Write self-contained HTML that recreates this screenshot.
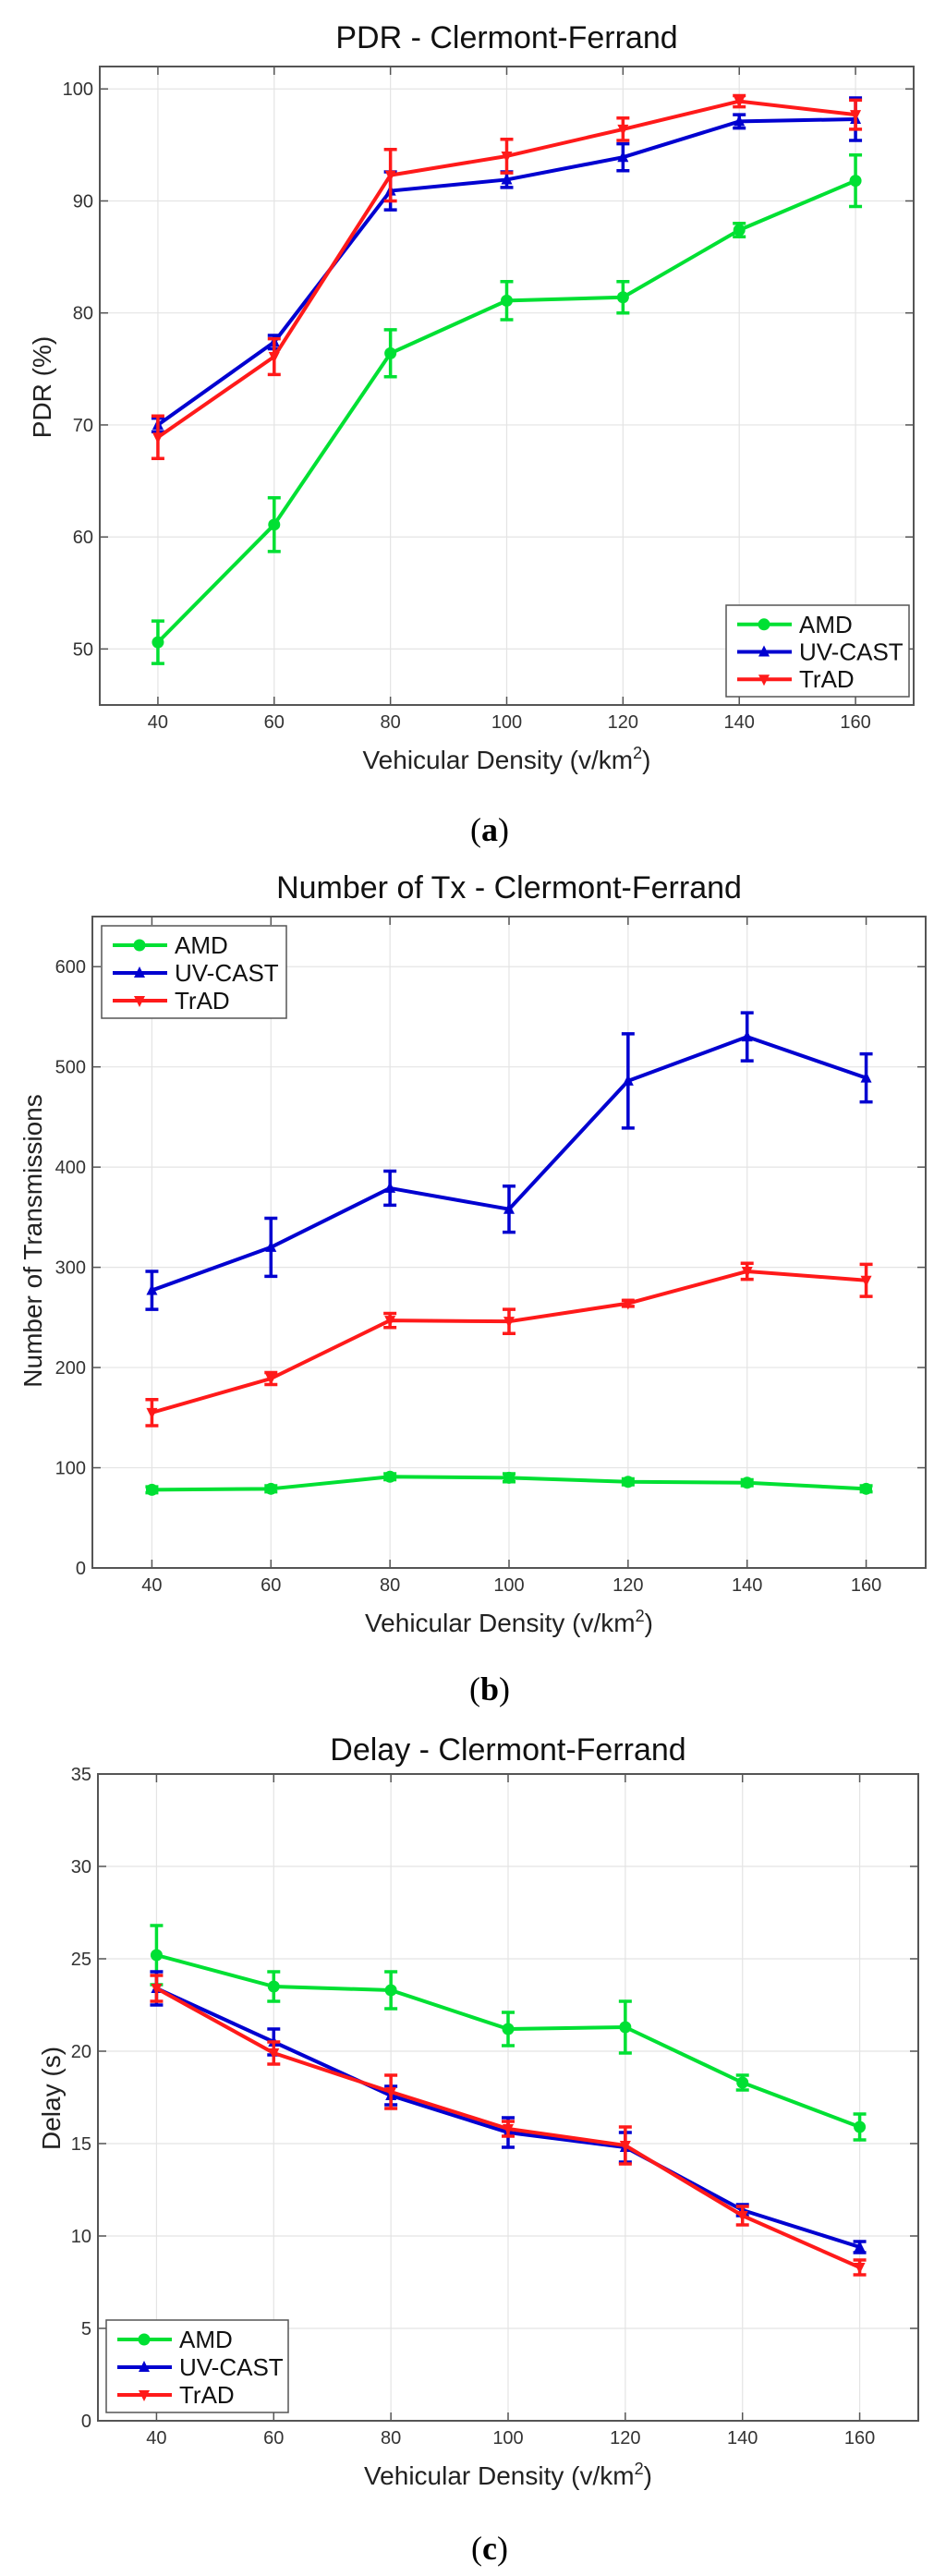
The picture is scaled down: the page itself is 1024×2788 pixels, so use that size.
<!DOCTYPE html>
<html><head><meta charset="utf-8"><style>
html,body{margin:0;padding:0;background:#fff;}
svg{display:block;font-family:"Liberation Sans",Arial,sans-serif;}
</style></head>
<body>
<svg id="fig" width="1024" height="2788" viewBox="0 0 1024 2788" xmlns="http://www.w3.org/2000/svg"></svg>
<script>
// ---- shared data ----
const densities = [40, 60, 80, 100, 120, 140, 160];
const xTicks = [40, 60, 80, 100, 120, 140, 160];
const seriesNames = ["AMD", "UV-CAST", "TrAD"];

// (a) PDR
const pdrAMD = [50.6, 61.1, 76.4, 81.1, 81.4, 87.4, 91.8];
const pdrAMDErr = [1.9, 2.4, 2.1, 1.7, 1.4, 0.6, 2.3];
const pdrUV = [70.0, 77.4, 90.9, 91.9, 93.9, 97.1, 97.3];
const pdrUVErr = [0.6, 0.6, 1.7, 0.7, 1.2, 0.6, 1.9];
const pdrTrAD = [68.9, 76.1, 92.3, 94.0, 96.4, 98.9, 97.7];
const pdrTrADErr = [1.9, 1.6, 2.3, 1.5, 1.0, 0.5, 1.3];
const pdrYTicks = [50, 60, 70, 80, 90, 100];

// (b) Number of Tx
const txAMD = [78, 79, 91, 90, 86, 85, 79];
const txAMDErr = [3, 3, 3, 4, 3, 3, 3];
const txUV = [277, 320, 379, 358, 486, 530, 489];
const txUVErr = [19, 29, 17, 23, 47, 24, 24];
const txTrAD = [155, 189, 247, 246, 264, 296, 287];
const txTrADErr = [13, 6, 7, 12, 3, 8, 16];
const txYTicks = [0, 100, 200, 300, 400, 500, 600];

// (c) Delay
const dlAMD = [25.2, 23.5, 23.3, 21.2, 21.3, 18.3, 15.9];
const dlAMDErr = [1.6, 0.8, 1.0, 0.9, 1.4, 0.4, 0.7];
const dlUV = [23.4, 20.5, 17.6, 15.6, 14.8, 11.4, 9.4];
const dlUVErr = [0.9, 0.7, 0.5, 0.8, 0.8, 0.3, 0.3];
const dlTrAD = [23.4, 19.9, 17.8, 15.8, 14.9, 11.1, 8.3];
const dlTrADErr = [0.7, 0.6, 0.9, 0.4, 1.0, 0.5, 0.4];
const dlYTicks = [0, 5, 10, 15, 20, 25, 30, 35];

const colors = ["#00e033", "#0000d0", "#ff1a1a"];
const NS = "http://www.w3.org/2000/svg";
const fig = document.getElementById("fig");

function mk(tag, attrs, parent){
  const e = document.createElementNS(NS, tag);
  for (const k in attrs) e.setAttribute(k, attrs[k]);
  (parent || fig).appendChild(e);
  return e;
}

function marker(g, kind, cx, cy, col){
  if (kind === 0) return mk("circle", {cx:cx, cy:cy, r:6.5, fill:col}, g);
  if (kind === 1) return mk("polygon", {points:`${cx},${cy-7} ${cx-6},${cy+5} ${cx+6},${cy+5}`, fill:col}, g);
  return mk("polygon", {points:`${cx},${cy+7} ${cx-6},${cy-5} ${cx+6},${cy-5}`, fill:col}, g);
}

function chart(cfg){
  const g = mk("g", {});
  
  
  const L = cfg.left, R = cfg.right, T = cfg.top, B = cfg.bottom;
  const xs = v => L + (v - cfg.xmin) / (cfg.xmax - cfg.xmin) * (R - L);
  const ys = v => B - (v - cfg.ymin) / (cfg.ymax - cfg.ymin) * (B - T);

  // grid
  const grid = mk("g", {stroke:"#e4e4e4", "stroke-width":1.2}, g);
  
  
  xTicks.forEach(t => mk("line", {x1:xs(t), x2:xs(t), y1:T, y2:B}, grid));
  cfg.yTicks.forEach(t => mk("line", {x1:L, x2:R, y1:ys(t), y2:ys(t)}, grid));

  // ticks
  const tk = mk("g", {stroke:"#555", "stroke-width":1.5}, g);
  xTicks.forEach(t => {
    mk("line", {x1:xs(t), x2:xs(t), y1:B, y2:B-9}, tk);
    mk("line", {x1:xs(t), x2:xs(t), y1:T, y2:T+9}, tk);
  });
  cfg.yTicks.forEach(t => {
    mk("line", {x1:L, x2:L+9, y1:ys(t), y2:ys(t)}, tk);
    mk("line", {x1:R, x2:R-9, y1:ys(t), y2:ys(t)}, tk);
  });

  // tick labels
  xTicks.forEach(t => {
    const e = mk("text", {x:xs(t), y:B+25, "font-size":20, "text-anchor":"middle", fill:"#333"}, g);
    e.textContent = t;
    
    
  });
  cfg.yTicks.forEach(t => {
    const e = mk("text", {x:L-7, y:ys(t)+7, "font-size":20, "text-anchor":"end", fill:"#333"}, g);
    e.textContent = t;
    
    
  });

  // series
  cfg.series.forEach((s, i) => {
    const sg = mk("g", {}, g);
    
    
    const col = colors[i];
    const pts = densities.map((d, j) => xs(d) + "," + ys(s.v[j])).join(" ");
    mk("polyline", {points:pts, fill:"none", stroke:col, "stroke-width":4, "stroke-linejoin":"round"}, sg);
    densities.forEach((d, j) => {
      const x = xs(d), y1 = ys(s.v[j] + s.e[j]), y2 = ys(s.v[j] - s.e[j]);
      const eb = mk("path", {d:`M${x},${y1}V${y2}M${x-7},${y1}H${x+7}M${x-7},${y2}H${x+7}`, stroke:col, "stroke-width":3.5, fill:"none"}, sg);
      
      
      const m = marker(sg, i, x, ys(s.v[j]), col);
      
      
    });
  });

  // box
  mk("rect", {x:L, y:T, width:R-L, height:B-T, fill:"none", stroke:"#555", "stroke-width":2}, g);

  // title
  const tt = mk("text", {x:(L+R)/2, y:cfg.titleY, "font-size":34, "text-anchor":"middle", fill:"#111"}, g);
  tt.textContent = cfg.title;
  
  

  // x label
  const xl = mk("text", {x:(L+R)/2, y:cfg.xlabelY, "font-size":28, "text-anchor":"middle", fill:"#222"}, g);
  xl.innerHTML = 'Vehicular Density (v/km<tspan dy="-11" font-size="18">2</tspan><tspan dy="11">)</tspan>';
  
  

  // y label
  const yl = mk("text", {x:0, y:0, "font-size":28, "text-anchor":"middle", fill:"#222",
    transform:`translate(${cfg.ylabelX},${cfg.ylabelY}) rotate(-90)`}, g);
  yl.textContent = cfg.ylabel;
  
  

  // legend
  const lg = mk("g", {}, g);
  
  
  const lx = cfg.legend[0], ly = cfg.legend[1], lw = cfg.legend[2], lh = cfg.legend[3];
  mk("rect", {x:lx, y:ly, width:lw, height:lh, fill:"#fff", stroke:"#555", "stroke-width":1.5}, lg);
  seriesNames.forEach((n, i) => {
    const ry = ly + lh * (0.21 + 0.3 * i);
    const ent = mk("g", {}, lg);
    
    
    mk("line", {x1:lx+12, x2:lx+71, y1:ry, y2:ry, stroke:colors[i], "stroke-width":4}, ent);
    marker(ent, i, lx+41, ry, colors[i]);
    const t = mk("text", {x:lx+79, y:ry+9, "font-size":26, fill:"#111"}, ent);
    t.textContent = n;
  });

  // caption
  const cp = mk("text", {x:530, y:cfg.captionY, "font-size":36, "text-anchor":"middle", fill:"#000",
    "font-family":"Liberation Serif, serif"}, g);
  cp.innerHTML = '(<tspan font-weight="bold">' + cfg.caption + '</tspan>)';
  
  
}

chart({name:"pdr-chart", title:"PDR - Clermont-Ferrand", ylabel:"PDR (%)",
  left:108, right:989, top:72, bottom:763, xmin:30, xmax:170, ymin:45, ymax:102,
  yTicks:pdrYTicks,
  series:[{v:pdrAMD,e:pdrAMDErr},{v:pdrUV,e:pdrUVErr},{v:pdrTrAD,e:pdrTrADErr}],
  titleY:52, xlabelY:832, ylabelX:55, ylabelY:419, legend:[786,655,198,99],
  caption:"a", captionY:910});

chart({name:"transmissions-chart", title:"Number of Tx - Clermont-Ferrand", ylabel:"Number of Transmissions",
  left:100, right:1002, top:992, bottom:1697, xmin:30, xmax:170, ymin:0, ymax:650,
  yTicks:txYTicks,
  series:[{v:txAMD,e:txAMDErr},{v:txUV,e:txUVErr},{v:txTrAD,e:txTrADErr}],
  titleY:972, xlabelY:1766, ylabelX:45, ylabelY:1343, legend:[110,1002,200,100],
  caption:"b", captionY:1840});

chart({name:"delay-chart", title:"Delay - Clermont-Ferrand", ylabel:"Delay (s)",
  left:106, right:994, top:1920, bottom:2620, xmin:30, xmax:170, ymin:0, ymax:35,
  yTicks:dlYTicks,
  series:[{v:dlAMD,e:dlAMDErr},{v:dlUV,e:dlUVErr},{v:dlTrAD,e:dlTrADErr}],
  titleY:1905, xlabelY:2689, ylabelX:65, ylabelY:2271, legend:[115,2511,197,100],
  caption:"c", captionY:2770});
</script>
</body></html>
